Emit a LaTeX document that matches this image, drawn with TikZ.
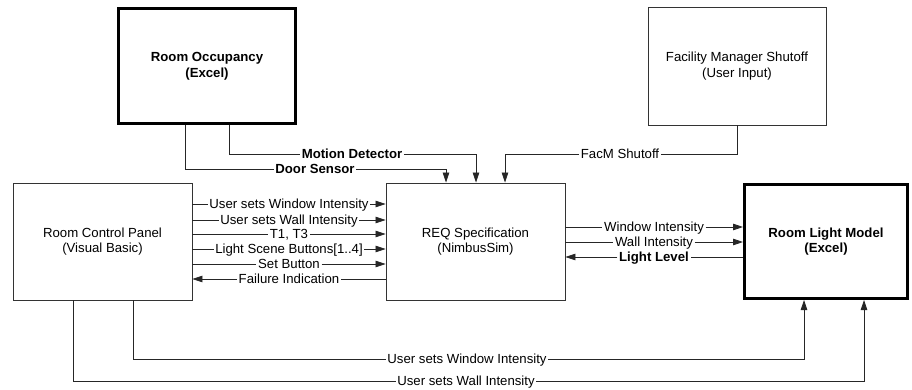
\documentclass[tikz,border=0pt]{standalone}
\usepackage{fontspec}
\setmainfont{Liberation Sans}
\usetikzlibrary{arrows.meta,calc}
\tikzset{
  box/.style={draw=black!80, line width=0.9pt, fill=white, align=center, inner sep=0pt},
  thickbox/.style={draw=black, line width=3pt, fill=white, align=center, inner sep=0pt, font=\fontsize{13.2}{15.8}\selectfont\bfseries},
  lab/.style={inner sep=1.5pt, text height=9.5pt, text depth=0pt},
  blab/.style={lab, font=\fontsize{13.2}{15.8}\selectfont\bfseries},
  conn/.style={draw=black!85, line width=0.8pt},
  arr/.style={conn, -{Triangle[length=10pt,width=6.5pt]}},
}
\begin{document}
\begin{tikzpicture}[x=1pt,y=-1pt, font=\fontsize{13.2}{15.8}\selectfont]
\useasboundingbox (0,0) rectangle (912,390);
% boxes
\node[thickbox, minimum width=177pt, minimum height=115pt] (occ) at (207,66) {Room Occupancy\\(Excel)};
\node[box, minimum width=178pt, minimum height=118pt] (fm) at (737,66) {Facility Manager Shutoff\\(User Input)};
\node[box, minimum width=179pt, minimum height=117pt] (rcp) at (102.5,241.5) {Room Control Panel\\(Visual Basic)};
\node[box, minimum width=179pt, minimum height=117pt] (req) at (475.5,241.5) {REQ Specification\\(NimbusSim)};
\node[thickbox, minimum width=163pt, minimum height=114pt] (rlm) at (826,241.5) {Room Light Model\\(Excel)};
% labels top
\node[blab] (ds) at (315,169) {Door Sensor};
\node[blab] (md) at (352,154) {Motion Detector};
\node[lab] (fs) at (620,154) {FacM Shutoff};
% labels RCP-REQ
\node[lab] (a1) at (289,204) {User sets Window Intensity};
\node[lab] (a2) at (289,220) {User sets Wall Intensity};
\node[lab] (a3) at (289,234) {T1, T3};
\node[lab] (a4) at (289,249) {Light Scene Buttons[1..4]};
\node[lab] (a5) at (289,264) {Set Button};
\node[lab] (a6) at (289,279) {Failure Indication};
% labels REQ-RLM
\node[lab] (b1) at (654,227) {Window Intensity};
\node[lab] (b2) at (654,242) {Wall Intensity};
\node[blab] (b3) at (654,257) {Light Level};
% labels bottom
\node[lab] (c1) at (467,359) {User sets Window Intensity};
\node[lab] (c2) at (466,381) {User sets Wall Intensity};
% top connectors
\draw[conn] ([xshift=-22pt]occ.south) |- (ds.west);
\draw[arr] (ds.east) -| ([xshift=-29.5pt]req.north);
\draw[conn] ([xshift=22pt]occ.south) |- (md.west);
\draw[arr] (md.east) -| ([xshift=0.5pt]req.north);
\draw[conn] (fm.south) |- (fs.east);
\draw[arr] (fs.west) -| ([xshift=29.5pt]req.north);
% RCP -> REQ
\foreach \n in {a1,a2,a3,a4,a5}{
  \draw[conn] (rcp.east |- \n) -- (\n.west);
  \draw[arr] (\n.east) -- (req.west |- \n);
}
\draw[conn] (req.west |- a6) -- (a6.east);
\draw[arr] (a6.west) -- (rcp.east |- a6);
% REQ -> RLM
\foreach \n in {b1,b2}{
  \draw[conn] (req.east |- \n) -- (\n.west);
  \draw[arr] (\n.east) -- (rlm.west |- \n);
}
\draw[conn] (rlm.west |- b3) -- (b3.east);
\draw[arr] (b3.west) -- (req.east |- b3);
% bottom
\draw[conn] ([xshift=30.5pt]rcp.south) |- (c1.west);
\draw[arr] (c1.east) -| ([xshift=-22pt]rlm.south);
\draw[conn] ([xshift=-29.5pt]rcp.south) |- (c2.west);
\draw[arr] (c2.east) -| ([xshift=38pt]rlm.south);
\end{tikzpicture}
\end{document}
